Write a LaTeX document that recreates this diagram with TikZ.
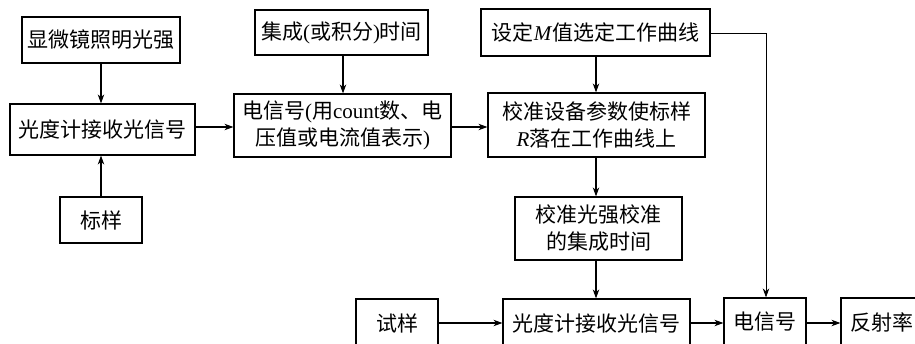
\documentclass[tikz,border=0pt]{standalone}
\usepackage{fontspec}
\setmainfont{Liberation Serif}
\newfontfamily\cjk{Noto Sans CJK SC}
\newcommand{\cn}[1]{{\cjk #1}}
\usetikzlibrary{arrows.meta}
\begin{document}
\begin{tikzpicture}[x=1pt,y=-1pt,
  box/.style={draw,line width=1.2pt,inner sep=0pt,align=center,font=\fontsize{21}{27}\selectfont},
  arr/.style={line width=1.1pt,-{Stealth[length=9pt,width=6.5pt]}},
  thinarr/.style={line width=0.8pt,-{Stealth[length=9pt,width=6.5pt]}}]
\useasboundingbox[fill=white] (0,0) rectangle (915,344);
\node[box,minimum width=158pt,minimum height=46pt] (A) at (101,40) {\cn{显微镜照明光强}};
\node[box,minimum width=185pt,minimum height=51pt] (B) at (102.5,129.5) {\cn{光度计接收光信号}};
\node[box,minimum width=82pt,minimum height=46pt] (C) at (101,220) {\cn{标样}};
\node[box,minimum width=173pt,minimum height=45pt] (D) at (341.5,32.5) {\cn{集成}(\cn{或积分})\cn{时间}};
\node[box,minimum width=217pt,minimum height=63pt] (E) at (342.5,125.5) {\cn{电信号}(\cn{用}count\cn{数、电}\\\cn{压值或电流值表示})};
\node[box,minimum width=229pt,minimum height=47pt] (F) at (595.5,32.5) {\cn{设定}\textit{M}\cn{值选定工作曲线}};
\node[box,minimum width=217pt,minimum height=64pt] (G) at (596.5,125) {\cn{校准设备参数使标样}\\\textit{R}\cn{落在工作曲线上}};
\node[box,minimum width=167pt,minimum height=63pt] (H) at (598.5,228.5) {\cn{校准光强校准}\\\cn{的集成时间}};
\node[box,minimum width=82pt,minimum height=48pt] (I) at (397,323) {\cn{试样}};
\node[box,minimum width=187pt,minimum height=48pt] (K) at (596.5,323) {\cn{光度计接收光信号}};
\node[box,minimum width=82pt,minimum height=48pt] (J) at (765,322) {\cn{电信号}};
\node[box,minimum width=82pt,minimum height=48pt] (L) at (882,322) {\cn{反射率}};
\draw[arr] (A.south -| 101,0) -- (B.north -| 101,0);
\draw[arr] (C.north -| 101,0) -- (B.south -| 101,0);
\draw[arr] (D.south -| 343,0) -- (E.north -| 343,0);
\draw[arr] (B.east |- 0,127) -- (E.west |- 0,127);
\draw[arr] (E.east |- 0,127) -- (G.west |- 0,127);
\draw[arr] (F.south -| 596,0) -- (G.north -| 596,0);
\draw[arr] (G.south -| 596,0) -- (H.north -| 596,0);
\draw[arr] (H.south -| 596,0) -- (K.north -| 596,0);
\draw[arr] (I.east |- 0,323) -- (K.west |- 0,323);
\draw[arr] (K.east |- 0,323) -- (J.west |- 0,323);
\draw[arr] (J.east |- 0,323) -- (L.west |- 0,323);
\draw[thinarr] (F.east |- 0,33) -- (766,33) -- (J.north -| 766,0);
\end{tikzpicture}
\end{document}
